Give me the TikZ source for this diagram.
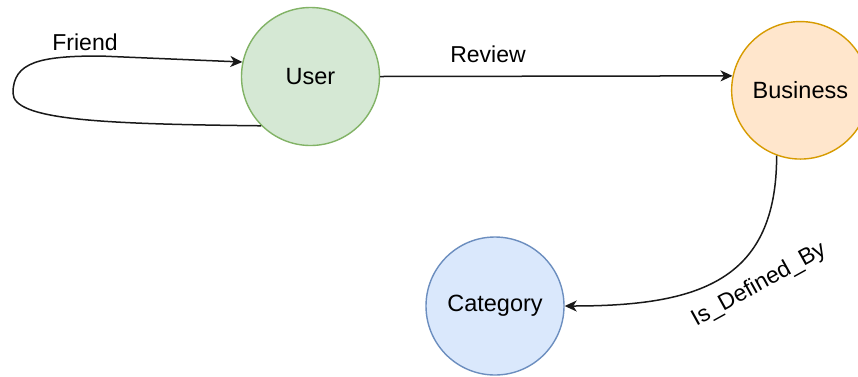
\documentclass[tikz,border=0pt]{standalone}
\usepackage{fontspec}
\setmainfont{Liberation Sans}
\usetikzlibrary{arrows.meta}

\definecolor{userfill}{HTML}{D5E8D4}
\definecolor{userline}{HTML}{82B366}
\definecolor{bizfill}{HTML}{FFE6CC}
\definecolor{bizline}{HTML}{D79B00}
\definecolor{catfill}{HTML}{DAE8FC}
\definecolor{catline}{HTML}{6C8EBF}

\tikzset{
  entity/.style={circle, inner sep=0pt, minimum size=138pt, line width=1.4pt,
    font=\fontsize{23.5}{26}\selectfont},
  rel/.style={line width=1.5pt, draw=black!90,
    -{Stealth[length=12pt,width=11pt,inset=3.5pt]}},
  rellabel/.style={font=\fontsize{23}{26}\selectfont, inner sep=0pt}
}

\begin{document}
\begin{tikzpicture}[x=1pt, y=-1pt]
  \fill[white] (0,0) rectangle (858,376);
  \useasboundingbox (0,0) rectangle (858,376);
  \clip (0,0) rectangle (858,376);

  % entity nodes
  \node[entity, fill=userfill, draw=userline] (user) at (310.5,76.5) {User};
  \node[entity, fill=bizfill, draw=bizline, minimum size=137.5pt] (business) at (800.4,90.3) {Business};
  \node[entity, fill=catfill, draw=catline] (category) at (495,306) {Category};

  % self relation on User
  \coordinate (loopleft) at (13,93);
  \draw[rel] (user.225) .. controls (100,124) and (13,120) .. (loopleft)
    .. controls (13,62) and (40,56) .. (100,56) -- (user.168);
  \node[rellabel] (friendlbl) at (85,42) {Friend};

  % User -> Business
  \draw[rel] (user.east) -- (business.168);
  \node[rellabel] (reviewlbl) at (488,54) {Review};

  % Business -> Category
  \draw[rel] (business.-110) .. controls +(0,125) and +(135,0) .. (category.east);
  \node[rellabel, rotate=29] (deflbl) at (759,285) {Is\_Defined\_By};
\end{tikzpicture}
\end{document}
